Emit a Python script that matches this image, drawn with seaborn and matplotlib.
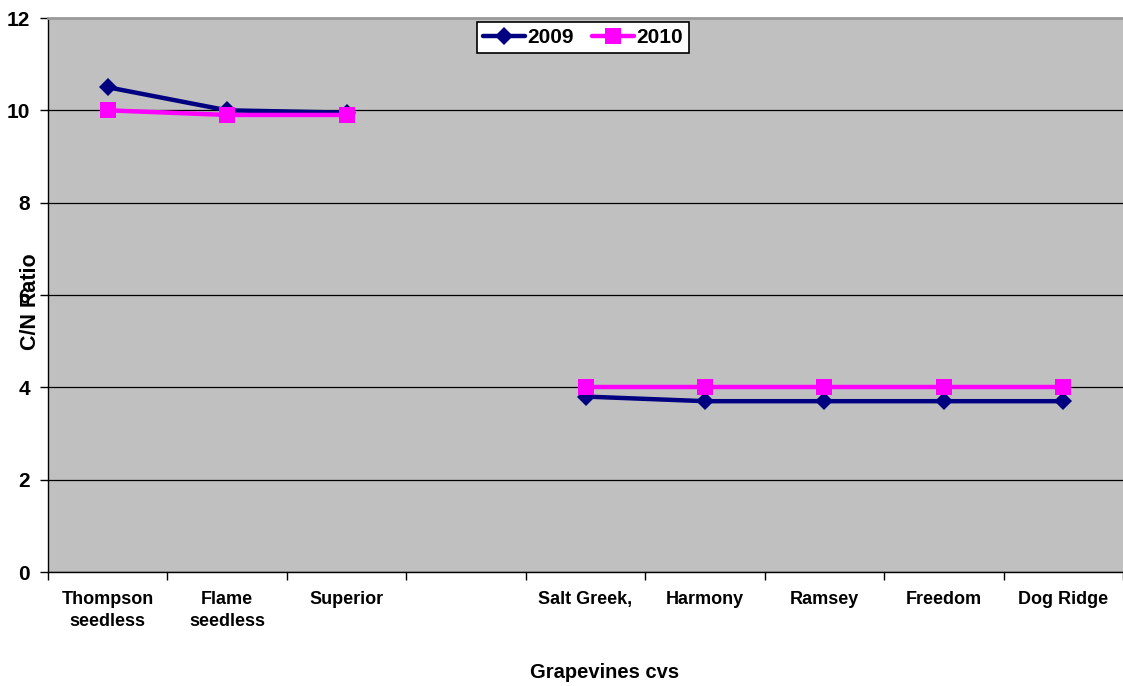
import numpy as np
import pandas as pd
import matplotlib
matplotlib.use("Agg")
import matplotlib.pyplot as plt
import seaborn as sns
from matplotlib.lines import Line2D

# Cultivars along the x axis (empty slot separates table grapes from rootstocks)
cultivars = ["Thompson\nseedless", "Flame\nseedless", "Superior", "",
             "Salt Greek,", "Harmony", "Ramsey", "Freedom", "Dog Ridge"]
cn_2009 = [10.5, 10.0, 9.95, np.nan, 3.8, 3.7, 3.7, 3.7, 3.7]
cn_2010 = [10.0, 9.9, 9.9, np.nan, 4.0, 4.0, 4.0, 4.0, 4.0]
years = ["2009", "2010"]
yticks = [0, 2, 4, 6, 8, 10, 12]

colors = {"2009": "#000080", "2010": "#FF00FF"}
markers = {"2009": "D", "2010": "s"}
msize = {"2009": 9, "2010": 11}

# Long-form table; a block id breaks each line at the empty category
rows = []
for year, vals in zip(years, [cn_2009, cn_2010]):
    block = 0
    for i, v in enumerate(vals):
        if np.isnan(v):
            block += 1
            continue
        rows.append({"pos": i, "cn": v, "year": year, "block": block})
df = pd.DataFrame(rows)

sns.set_theme(style="white")
fam = ["Liberation Sans", "DejaVu Sans"]
plt.rcParams["font.family"] = fam
plt.rcParams["font.weight"] = "bold"
plt.rcParams["text.color"] = "black"
plt.rcParams["xtick.color"] = "black"
plt.rcParams["ytick.color"] = "black"
plt.rcParams["axes.labelcolor"] = "black"

fig = plt.figure(figsize=(11.23, 6.86), dpi=100)
W, H = 1123, 686
left, right, top, bottom = 48, 1123, 18, 572
ax = fig.add_axes([left / W, 1 - bottom / H, (right - left) / W, (bottom - top) / H])
ax.set_facecolor("#C0C0C0")

for year in years:
    sub = df[df["year"] == year]
    sns.lineplot(data=sub, x="pos", y="cn", units="block", estimator=None,
                 color=colors[year], marker=markers[year], markersize=msize[year],
                 markeredgewidth=0, linewidth=3.2, ax=ax, legend=False,
                 zorder=3 if year == "2009" else 4)

ax.set_xlim(-0.5, -0.5 + (right - left) / 120)
ax.set_ylim(0, 12)
ax.set_yticks(yticks)
ax.set_yticklabels([str(t) for t in yticks], fontsize=15, fontweight="bold")
ax.yaxis.grid(True, color="black", linewidth=0.9, zorder=1)
ax.set_axisbelow(True)
ax.get_ygridlines()[-1].set_visible(False)

ax.set_xticks(range(len(cultivars)))
ax.set_xticklabels(cultivars, fontsize=13, fontweight="bold", linespacing=1.35)
ax.set_xticks(np.arange(-0.5, len(cultivars), 1), minor=True)
ax.tick_params(axis="x", which="major", length=0, pad=14)
ax.tick_params(axis="x", which="minor", length=6, width=1, color="black", bottom=True)
ax.tick_params(axis="y", which="major", length=6, width=1, color="black", left=True, pad=7)

for side in ["left", "bottom"]:
    ax.spines[side].set_color("black")
    ax.spines[side].set_linewidth(1)
ax.spines["top"].set_color("#999999")
ax.spines["top"].set_linewidth(2)
ax.spines["right"].set_visible(False)

ax.set_xlabel("Grapevines cvs", fontsize=14.5, fontweight="bold", va="center")
ax.xaxis.set_label_coords((605 - left) / (right - left), (bottom - 673) / (bottom - top))
ax.set_ylabel("C/N Ratio", fontsize=15.5, fontweight="bold", va="center")
ax.yaxis.set_label_coords((30 - left) / (right - left), (bottom - 302) / (bottom - top))

handles = [Line2D([], [], color=colors[y], marker=markers[y], linewidth=3.2,
                  markersize=msize[y], markeredgewidth=0) for y in years]
leg = ax.legend(handles, years, loc="upper center",
                bbox_to_anchor=((583 - left) / (right - left), 0.993),
                ncol=2, frameon=True, fancybox=False, framealpha=1,
                prop={"family": fam, "weight": "bold", "size": 15},
                handlelength=2.0, handletextpad=0.1, columnspacing=0.9,
                borderpad=0.3, borderaxespad=0)
leg.get_frame().set_edgecolor("black")
leg.get_frame().set_linewidth(1.2)

fig.savefig("out.png", dpi=100, facecolor="white")
